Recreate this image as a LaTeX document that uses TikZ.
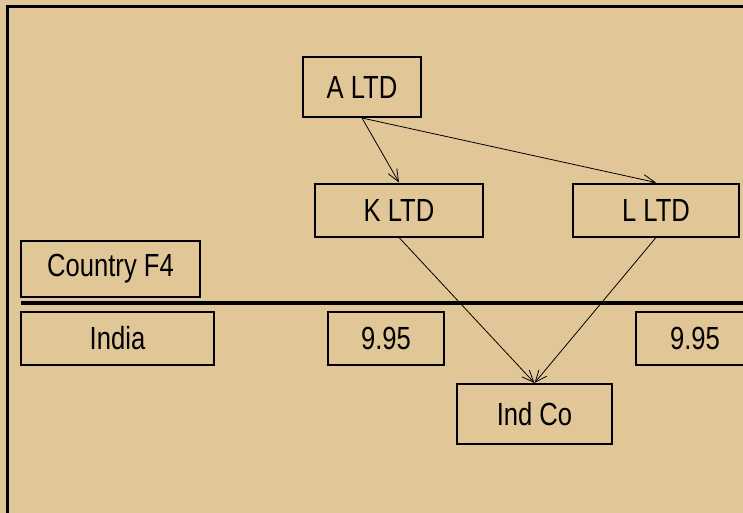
\documentclass[tikz,border=0pt]{standalone}
\usepackage{fontspec}
\setmainfont[FakeStretch=0.8]{Liberation Sans}
\usetikzlibrary{arrows.meta}
\definecolor{sand}{HTML}{E1C797}
\begin{document}
\begin{tikzpicture}[x=1pt,y=-1pt,
  box/.style={draw,line width=2pt,inner sep=0pt,font=\fontsize{32}{35}\selectfont},
  arr/.style={-{Straight Barb[length=12pt,width=10pt]},line width=.8pt}]
  \fill[sand] (0,0) rectangle (743,513);
  \useasboundingbox (0,0) rectangle (743,513);
  \draw[line width=3pt] (760,7)--(7,7)--(7,530);
  \draw[line width=3.5pt] (21,303)--(760,303);
  \node[box,minimum width=118pt,minimum height=60pt] (a) at (362,87) {A LTD};
  \node[box,minimum width=168pt,minimum height=53pt] (k) at (399,210) {K LTD};
  \node[box,minimum width=166pt,minimum height=53pt] (l) at (656,210) {L LTD};
  \node[box,minimum width=179pt,minimum height=56pt] (f4) at (110.5,269) {Country F4};
  \node[box,minimum width=193pt,minimum height=53pt] (india) at (117.5,338.5) {India};
  \node[box,minimum width=116pt,minimum height=53pt] (pk) at (386,338.5) {9.95};
  \node[box,minimum width=118pt,minimum height=53pt] (pl) at (695,338.5) {9.95};
  \node[box,minimum width=155pt,minimum height=60pt] (ind) at (534.5,414) {Ind Co};
  \draw[arr] (a.south)--(k.north);
  \draw[arr] (a.south)--(l.north);
  \draw[arr] (k.south)--(ind.north);
  \draw[arr] (l.south)--(ind.north);
\end{tikzpicture}
\end{document}
